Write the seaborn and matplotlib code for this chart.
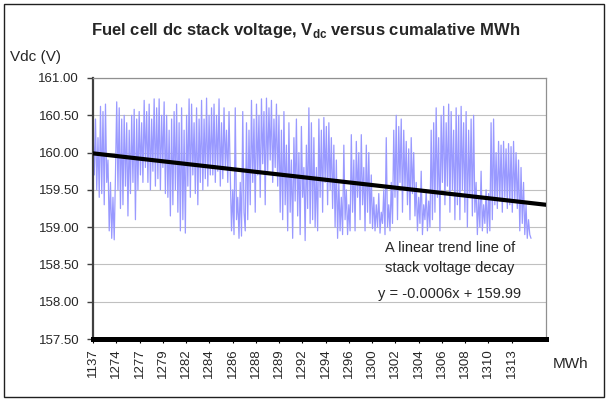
import numpy as np
import matplotlib
matplotlib.use("Agg")
import matplotlib.pyplot as plt
from matplotlib.patches import Rectangle
import seaborn as sns

# Stack voltage samples (V) left to right
vdc = [
    160.30, 159.70, 160.45, 159.50, 160.20, 159.40,
    160.62, 159.45, 160.55, 159.30, 160.65, 159.60,
    159.90, 158.95, 159.60, 158.85, 159.40, 158.83, 159.70,
    160.68, 159.50, 160.60, 159.25, 160.45, 159.30,
    160.50, 159.55, 160.40, 159.15, 160.30, 159.45, 160.50, 159.60,
    160.58, 159.10, 160.45, 159.50, 160.55, 159.70, 160.40, 159.60,
    160.70, 159.80, 160.55, 159.60, 160.65, 159.50, 160.45, 159.75, 160.72,
    159.55, 160.60, 159.65, 160.72, 159.50, 160.50, 159.80, 160.68, 159.45,
    160.50, 159.40, 160.30, 159.15, 160.45, 159.30, 160.55, 159.50,
    160.65, 159.20, 160.40, 158.95, 160.60, 159.10, 160.30, 158.92,
    160.50, 159.55, 160.72, 159.40, 160.65, 159.70, 160.40, 159.45, 160.60, 159.30,
    160.45, 159.60, 160.70, 159.50, 160.45, 159.65, 160.73, 159.55, 160.50, 159.70, 160.60,
    159.70, 160.65, 159.60, 160.50, 159.75, 160.72, 159.55, 160.40, 159.65, 160.60, 159.80, 160.30, 159.60, 160.55,
    159.70, 158.95, 159.50, 158.90, 160.60, 159.10,
    159.40, 158.85, 159.60, 158.88, 160.55, 159.20,
    158.95, 160.40, 159.10, 160.30, 159.30,
    160.70, 159.60, 160.45, 159.20, 160.65, 159.70, 160.50, 159.40, 160.72, 159.85, 160.55, 159.30,
    160.73, 159.75, 160.60, 159.90, 160.70, 159.60, 160.45, 159.80, 160.65, 159.55, 160.50, 159.20,
    160.30, 159.10, 160.55, 159.30, 160.10, 158.95, 160.40, 159.20, 159.90, 158.85, 160.20, 159.35, 160.45,
    159.15, 160.00, 158.90, 160.35, 159.40, 159.80, 158.82, 160.10, 159.25, 160.60, 159.05,
    160.40, 159.10, 160.20, 159.00, 159.80, 158.95,
    160.45, 159.40, 160.30, 159.20, 160.47, 159.60, 160.35, 159.30, 160.40, 159.50, 160.20, 159.25, 160.10,
    159.00, 159.90, 158.85, 159.60, 158.95, 159.40, 158.90, 160.10, 159.10, 159.50, 158.90, 159.30, 158.95,
    160.24, 159.20, 159.90, 158.95, 160.15, 159.40, 160.00, 159.10, 160.24, 159.30, 159.80, 158.95,
    160.10, 159.20, 160.00, 159.05, 159.70, 158.98,
    159.40, 158.95, 159.30, 159.00, 159.45, 158.92, 159.20, 159.05,
    159.50, 158.90, 160.20, 159.00, 159.30, 158.95, 159.60, 159.05,
    160.30, 159.40, 160.50, 159.10, 160.35, 159.60, 160.45, 159.20, 160.30, 159.50, 160.15, 159.30,
    160.05, 159.10, 160.20, 159.45, 160.00, 159.15,
    159.60, 158.95, 159.40, 159.05, 159.75, 158.90, 159.30, 159.10, 159.50, 158.95, 159.35, 159.00, 160.30, 159.10,
    160.40, 159.20, 160.60, 159.40, 160.20, 158.95, 160.50, 159.60, 160.62, 159.30, 160.40, 159.55,
    160.65, 159.20, 160.55, 159.50, 160.30, 159.10,
    160.60, 159.30, 160.50, 159.10, 160.62, 159.50, 160.40, 159.20, 160.55, 159.00, 160.30, 159.40, 160.45, 159.15,
    160.50, 159.20, 159.60, 158.90, 159.40, 159.00, 159.75, 158.95, 159.30, 159.05, 159.50, 158.92, 159.45,
    158.95, 160.40, 159.10, 160.45, 159.30, 160.00,
    159.25, 160.15, 159.35, 160.10, 159.20, 160.15, 159.40, 160.05, 159.25, 160.12, 159.30, 160.08,
    159.20, 160.15, 159.35, 160.00, 159.25, 159.90,
    158.95, 159.80, 159.05, 159.60, 158.90, 159.30, 158.85, 159.10, 158.90, 158.85,
]

# category axis: cumulative MWh labels shown every 59th sample
mwh_labels = ["1137", "1274", "1277", "1279", "1282", "1284", "1286", "1288",
              "1289", "1292", "1294", "1296", "1300", "1302", "1304", "1306",
              "1308", "1310", "1313"]
label_step = 59
n_samples = 1112      # samples in the original record
n_categories = 1150   # axis length incl. trend forecast

# trend line from the chart: y = -0.0006x + 159.99
slope = -0.0006
intercept = 159.99

sns.set_theme(style="white")
plt.rcParams["font.family"] = ["Liberation Sans", "DejaVu Sans"]
plt.rcParams["mathtext.fontset"] = "custom"
plt.rcParams["mathtext.rm"] = "Liberation Sans"
plt.rcParams["mathtext.bf"] = "Liberation Sans:bold"

fig = plt.figure(figsize=(6.08, 4.0), dpi=100)
ax = fig.add_axes([93 / 608, 1 - 339 / 400, 453 / 608, 261 / 400])

x = np.linspace(1, n_samples, len(vdc))
sns.lineplot(x=x, y=vdc, ax=ax, color="#9999ff", lw=0.9, zorder=2)

xt = np.array([1, n_categories])
sns.lineplot(x=xt, y=slope * xt + intercept, ax=ax, color="black", lw=3.0, zorder=3)

ax.set_xlim(1, n_categories)
ax.set_ylim(157.5, 161.0)
yt = np.arange(157.5, 161.01, 0.5)
ax.set_yticks(yt)
ax.set_yticklabels([f"{v:.2f}" for v in yt], fontsize=9.5)
ax.set_xticks([1 + label_step * i for i in range(len(mwh_labels))])
ax.set_xticklabels(mwh_labels, rotation=90, fontsize=9.5)
ax.tick_params(axis="y", length=4, width=1, color="#404040", pad=6, left=True)
ax.tick_params(axis="x", length=3, width=0.8, color="black", pad=4, bottom=True)
ax.grid(axis="y", color="#c0c0c0", lw=0.8, zorder=0)
ax.set_axisbelow(True)

ax.spines["left"].set_color("#404040")
ax.spines["left"].set_linewidth(1.6)
ax.spines["bottom"].set_color("black")
ax.spines["bottom"].set_linewidth(3.6)
ax.spines["top"].set_color("#909090")
ax.spines["right"].set_color("#909090")
ax.spines["top"].set_linewidth(0.9)
ax.spines["right"].set_linewidth(0.9)
ax.set_xlabel("")
ax.set_ylabel("")

fig.text(306 / 608, 1 - 30 / 400,
         r"Fuel cell dc stack voltage, V$_{\mathbf{dc}}$ versus cumalative MWh",
         ha="center", va="center", fontsize=12, fontweight="bold")
fig.text(10 / 608, 1 - 57 / 400, "Vdc (V)", ha="left", va="center", fontsize=11)
fig.text(553 / 608, 1 - 364 / 400, "MWh", ha="left", va="center", fontsize=11)

ax.text(0.788, 0.349, "A linear trend line of", transform=ax.transAxes,
        ha="center", va="center", fontsize=10.5)
ax.text(0.788, 0.272, "stack voltage decay", transform=ax.transAxes,
        ha="center", va="center", fontsize=10.5)
ax.text(0.788, 0.172, "y = -0.0006x + 159.99", transform=ax.transAxes,
        ha="center", va="center", fontsize=10.5)

fig.patches.append(Rectangle((4 / 608, 3 / 400), 600 / 608, 393 / 400,
                             transform=fig.transFigure, fill=False,
                             edgecolor="#202020", lw=1.0))

fig.savefig("out.png", dpi=100)
